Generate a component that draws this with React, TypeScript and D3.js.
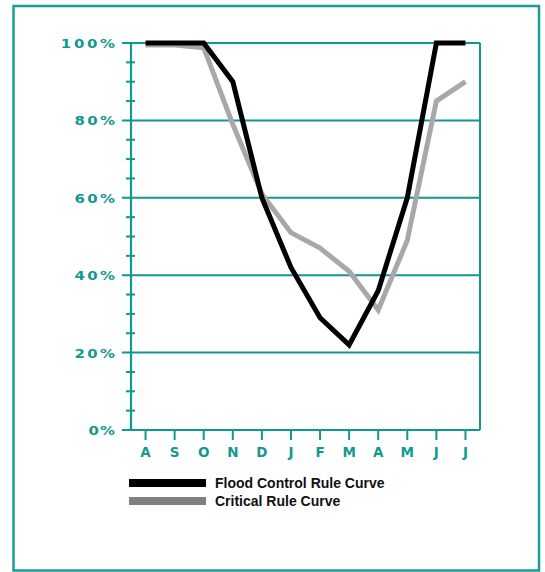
import React from "react";
import * as d3 from "d3";

const months = ["A", "S", "O", "N", "D", "J", "F", "M", "A", "M", "J", "J"];
const floodControl = [100, 100, 100, 90, 60, 42, 29, 22, 36, 60, 100, 100];
const criticalCurve = [99.5, 99.5, 98.8, 79, 61, 51, 47, 41, 31, 49, 85, 90];
const yMajorTicks = [0, 20, 40, 60, 80, 100];
const yMinorTicks = d3.range(0, 101, 5);
const legendItems = [
  { label: "Flood Control Rule Curve", key: "flood" },
  { label: "Critical Rule Curve", key: "critical" },
];

const TEAL = "#11998f";

export default function App() {
  const W = 545;
  const H = 572;
  const left = 131;
  const right = 480;
  const top = 43;
  const bottom = 430;

  const x = d3
    .scaleBand<number>()
    .domain(months.map((_, i) => i))
    .range([left, right])
    .padding(0);
  const y = d3.scaleLinear().domain([0, 100]).range([bottom, top]);
  const cx = (i: number) => (x(i) as number) + x.bandwidth() / 2;

  const line = d3
    .line<number>()
    .x((_, i) => cx(i))
    .y((d) => y(d));

  const sx = 1.3;

  return (
    <svg
      width={W}
      height={H}
      style={{ position: "absolute", left: 0, top: 0, background: "#fff" }}
    >
      <rect x={13.5} y={6} width={525.5} height={564.5} fill="none" stroke="#1b9d95" strokeWidth={2.5} />

      {/* minor ticks */}
      {yMinorTicks
        .filter((t) => !yMajorTicks.includes(t))
        .map((t) => (
          <line key={"mn" + t} x1={126} x2={135} y1={y(t)} y2={y(t)} stroke={TEAL} strokeWidth={2} />
        ))}
      {/* major grid */}
      {yMajorTicks.map((t) => (
        <line key={"mj" + t} x1={122} x2={right} y1={y(t)} y2={y(t)} stroke={TEAL} strokeWidth={2} />
      ))}
      {/* axis & right border */}
      <line x1={left} x2={left} y1={top} y2={bottom} stroke={TEAL} strokeWidth={2.2} />
      <line x1={right} x2={right} y1={top} y2={bottom} stroke={TEAL} strokeWidth={2} />

      {/* y labels */}
      {yMajorTicks.map((t) => {
        const label = t + "%";
        return (
          <g key={"yl" + t} transform={`translate(115,${y(t) + 5}) scale(${sx},1)`}>
            <text
              x={0}
              y={0}
              textAnchor="end"
              fill={TEAL}
              fontFamily="DejaVu Sans, sans-serif"
              fontWeight="bold"
              fontSize={11.5}
              textLength={(label.length * 13.8 - 1) / sx}
              lengthAdjust="spacing"
            >
              {label}
            </text>
          </g>
        );
      })}

      {/* x ticks & labels */}
      {months.map((m, i) => (
        <g key={"x" + i}>
          <line x1={cx(i)} x2={cx(i)} y1={bottom} y2={440} stroke={TEAL} strokeWidth={2} />
          <text
            x={cx(i)}
            y={457}
            textAnchor="middle"
            fill={TEAL}
            fontFamily="DejaVu Sans, sans-serif"
            fontWeight="bold"
            fontSize={13.5}
          >
            {m}
          </text>
        </g>
      ))}

      {/* lines */}
      <path d={line(criticalCurve) || ""} fill="none" stroke="#a8a8a8" strokeWidth={5} />
      <path d={line(floodControl) || ""} fill="none" stroke="#000" strokeWidth={5} />

      {/* legend */}
      {legendItems.map((it, i) => (
        <g key={it.key}>
          <rect
            x={129}
            y={479 + i * 18}
            width={77}
            height={8}
            fill={it.key === "flood" ? "#000" : "#808080"}
          />
          <text
            x={215}
            y={488 + i * 18}
            fill="#111"
            fontFamily="Liberation Sans, Arial, sans-serif"
            fontWeight="bold"
            fontSize={14}
          >
            {it.label}
          </text>
        </g>
      ))}
    </svg>
  );
}
